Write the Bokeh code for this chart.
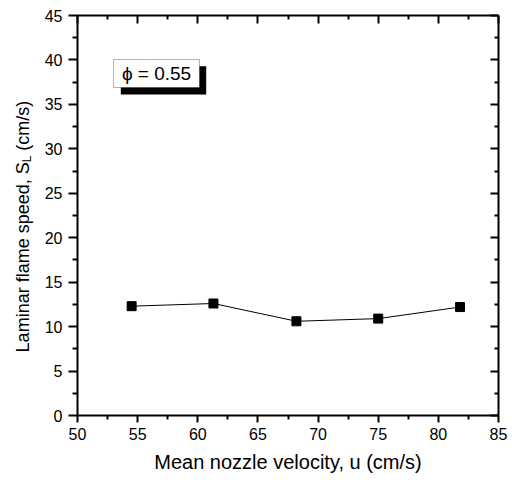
import math
from bokeh.plotting import figure
from bokeh.layouts import row
from bokeh.models import LinearAxis, Range1d, FixedTicker, Label, BoxAnnotation
from bokeh.core.properties import value
from bokeh.embed import file_html
from bokeh.resources import INLINE

# ---- data ----
velocity = [54.5, 61.3, 68.2, 75.0, 81.8]          # mean nozzle velocity u (cm/s)
flame_speed = [12.3, 12.6, 10.6, 10.9, 12.2]        # laminar flame speed S_L (cm/s)
x_ticks = [50, 55, 60, 65, 70, 75, 80, 85]
x_minor = [52.5, 57.5, 62.5, 67.5, 72.5, 77.5, 82.5]
y_ticks = [0, 5, 10, 15, 20, 25, 30, 35, 40, 45]
y_minor = [2.5, 7.5, 12.5, 17.5, 22.5, 27.5, 32.5, 37.5, 42.5]
annotation_text = "\u03d5 = 0.55"
x_title = "Mean nozzle velocity, u (cm/s)"
y_title_main = "Laminar flame speed, S"
y_title_sub = "L"
y_title_tail = "(cm/s)"

FONT = "Liberation Sans"
TOP, BOTTOM = 15, 65
LEFT_W = 40

p = figure(width=512 - LEFT_W, height=480, x_range=Range1d(50, 85), y_range=Range1d(0, 45),
           output_backend="svg", toolbar_location=None,
           min_border_left=77 - LEFT_W, min_border_right=14,
           min_border_top=TOP, min_border_bottom=BOTTOM)
p.grid.visible = False
p.outline_line_color = None

top_axis = LinearAxis()
right_axis = LinearAxis()
p.add_layout(top_axis, "above")
p.add_layout(right_axis, "right")

for ax in p.xaxis:
    ax.ticker = FixedTicker(ticks=x_ticks, minor_ticks=x_minor)
for ax in p.yaxis:
    ax.ticker = FixedTicker(ticks=y_ticks, minor_ticks=y_minor)

for ax in list(p.xaxis) + list(p.yaxis):
    ax.axis_line_width = 2
    ax.axis_line_color = "black"
    ax.major_tick_line_width = 2
    ax.minor_tick_line_width = 2
    ax.major_tick_line_color = "black"
    ax.minor_tick_line_color = "black"
    ax.major_label_text_font = FONT
    ax.major_label_text_font_size = "16px"
    ax.major_label_text_color = "black"

bottom = p.below[0]
left = p.left[0]
bottom.major_tick_out = 7
bottom.major_tick_in = 0
bottom.minor_tick_out = 4
bottom.minor_tick_in = 0
bottom.major_label_standoff = 5
bottom.axis_label = x_title
bottom.axis_label_text_font = FONT
bottom.axis_label_text_font_size = "20px"
bottom.axis_label_text_font_style = "normal"
bottom.axis_label_text_color = "black"
bottom.axis_label_standoff = 8

left.major_tick_out = 9
left.major_tick_in = 0
left.minor_tick_out = 5
left.minor_tick_in = 0
left.major_label_standoff = 6

for ax, ticks in ((top_axis, x_ticks), (right_axis, y_ticks)):
    ax.major_tick_in = 8
    ax.major_tick_out = 0
    ax.minor_tick_in = 4
    ax.minor_tick_out = 0
    ax.major_label_overrides = {t: "" for t in ticks}
    ax.major_label_standoff = 0

# data
p.line(velocity, flame_speed, line_color="black", line_width=1)
p.scatter(velocity, flame_speed, marker="square", size=9,
          fill_color="black", line_color="black")

# annotation box with drop shadow
p.add_layout(BoxAnnotation(left=53.6, right=60.7, bottom=36.1, top=39.3,
                           fill_color="black", fill_alpha=1, line_color=None))
p.add_layout(BoxAnnotation(left=53.0, right=60.14, bottom=36.9, top=40.05,
                           fill_color="white", fill_alpha=1, line_color="black", line_width=1))
p.add_layout(Label(x=56.57, y=38.47, text=annotation_text, text_align="center",
                   text_baseline="middle", text_font=FONT, text_font_size="19px",
                   text_color="black"))

# ---- y-axis title (with subscript) in a narrow strip figure ----
t = figure(width=LEFT_W, height=480, x_range=Range1d(0, LEFT_W), y_range=Range1d(0, 45),
           output_backend="svg", toolbar_location=None, x_axis_type=None, y_axis_type=None,
           min_border_left=0, min_border_right=0, min_border_top=TOP, min_border_bottom=BOTTOM)
t.grid.visible = False
t.outline_line_color = None

ang = math.pi / 2
fs_main, fs_sub = 18, 12
px_y = 400 / 45.0
y0 = 7.1
main_len = 10.56 * fs_main / px_y
sub_len = 0.556 * fs_sub / px_y
space_len = 0.278 * fs_main / px_y
common = dict(angle=ang, text_align="left", text_baseline="alphabetic",
              text_font=value(FONT), text_color="black")
t.text(x=[22], y=[y0], text=[y_title_main], text_font_size=value(f"{fs_main}px"), **common)
t.text(x=[26], y=[y0 + main_len], text=[y_title_sub], text_font_size=value(f"{fs_sub}px"), **common)
t.text(x=[22], y=[y0 + main_len + sub_len + space_len], text=[y_title_tail],
       text_font_size=value(f"{fs_main}px"), **common)

layout = row(t, p, spacing=0)
open("out.html", "w").write(file_html(layout, INLINE))
